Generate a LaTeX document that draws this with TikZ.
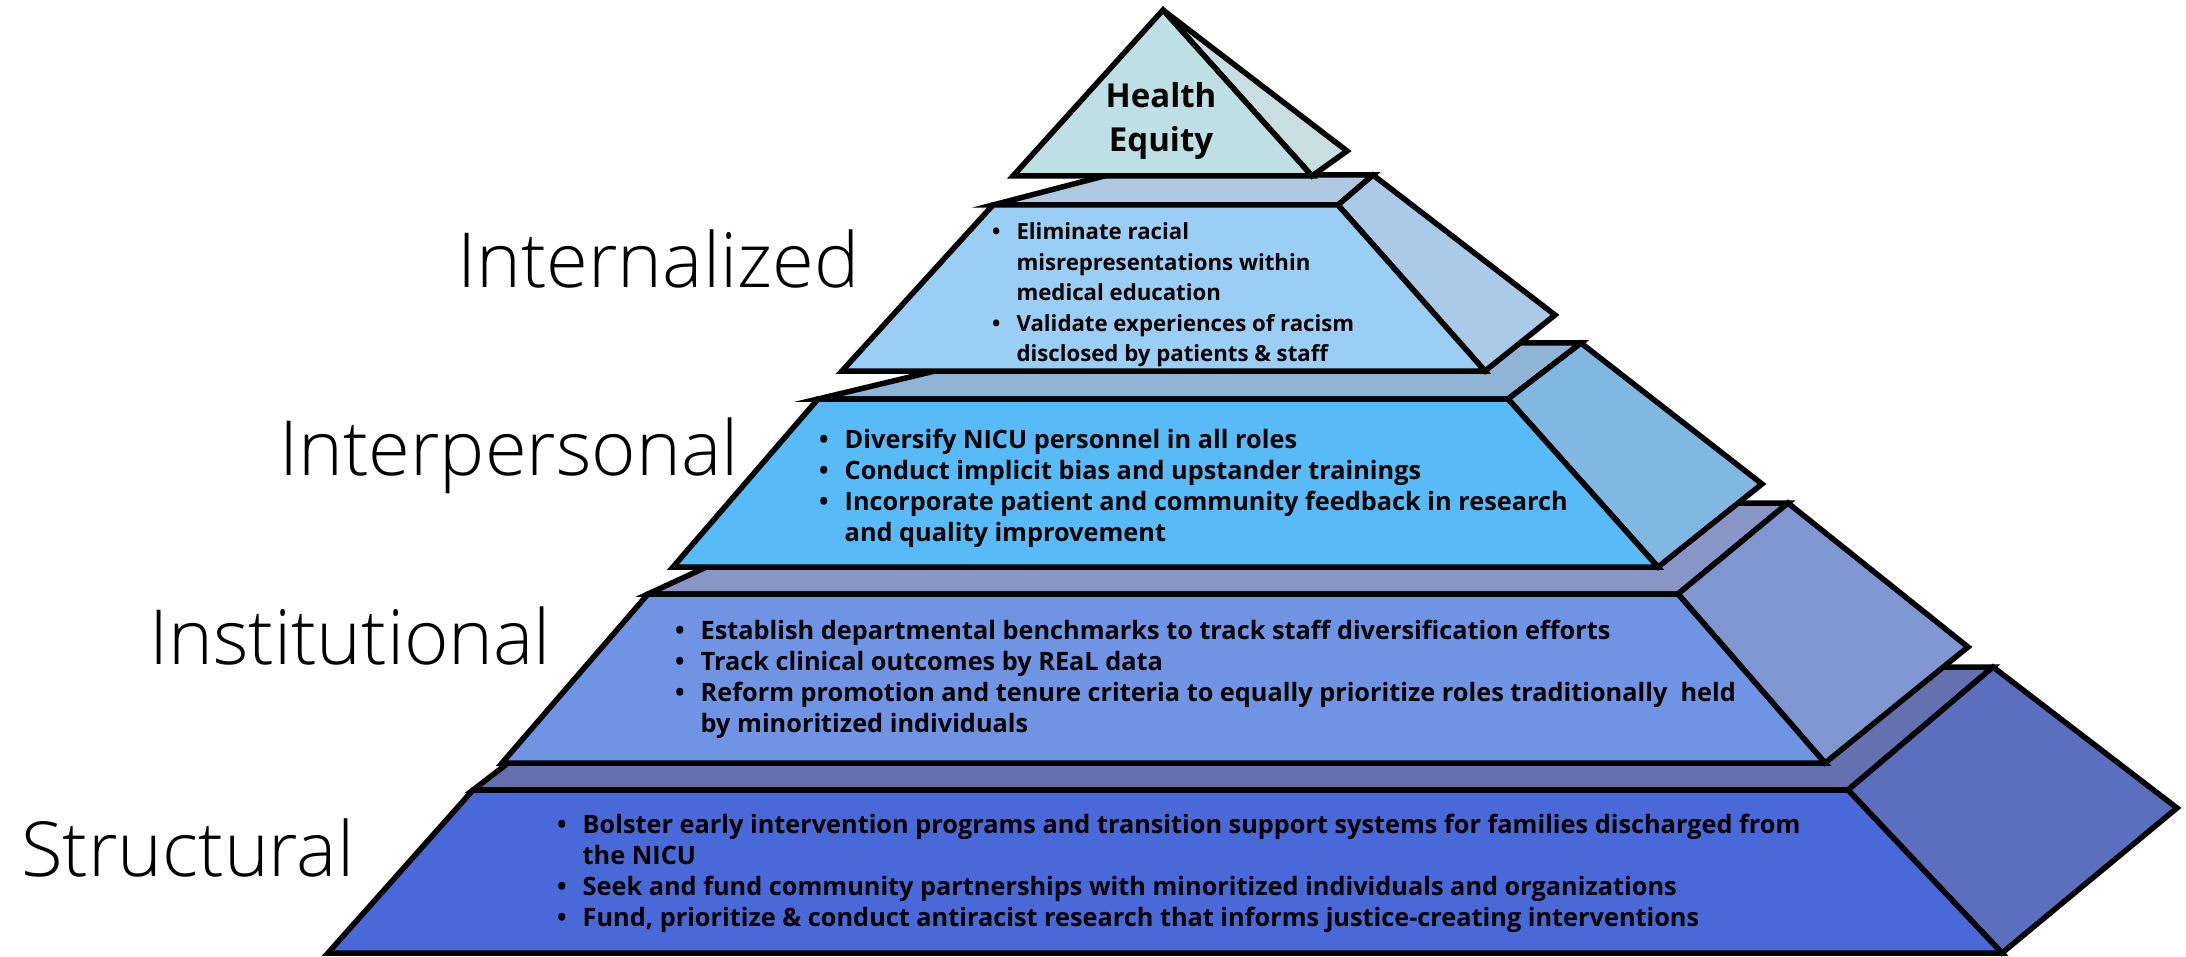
\documentclass[tikz,border=0pt]{standalone}
\usepackage{fontspec}
\setmainfont{Open Sans}
\IfFontExistsTF{Open Sans Light}{\newfontfamily\lightfont{Open Sans Light}}{\newfontfamily\lightfont{Open Sans}}
\definecolor{heqfront}{HTML}{BEE0E4}
\definecolor{heqside}{HTML}{C8DEE0}
\definecolor{intlfront}{HTML}{9BCEF5}
\definecolor{intltop}{HTML}{B0C8E0}
\definecolor{intlside}{HTML}{AACAE8}
\definecolor{intpfront}{HTML}{58BBF7}
\definecolor{intptop}{HTML}{8FB5D6}
\definecolor{intpside}{HTML}{80B8E2}
\definecolor{instfront}{HTML}{7094E4}
\definecolor{insttop}{HTML}{8796C6}
\definecolor{instside}{HTML}{8096D0}
\definecolor{strufront}{HTML}{4A69D8}
\definecolor{strutop}{HTML}{6470B0}
\definecolor{struside}{HTML}{5C6EBE}
\tikzset{
face/.style={draw, line width=5.5pt, line join=miter},
level/.style={anchor=base west, inner sep=0pt, font=\lightfont\fontsize{76}{90}\selectfont},
items/.style={anchor=base west, inner sep=0pt, font=\bfseries\fontsize{25.3}{31.3}\selectfont}
}
\newcommand{\itm}{\textbullet}

\begin{document}
\begin{tikzpicture}[x=1pt,y=-1pt]
\useasboundingbox (0,0) rectangle (2186,957);

\draw[face, fill=strutop] (473,790) -- (1848,790) -- (1993,667) -- (633,667) -- cycle;
\draw[face, fill=struside] (1848,790) -- (1993,667) -- (2177,808) -- (2002,953) -- cycle;
\draw[face, fill=strufront] (473,790) -- (1848,790) -- (2002,953) -- (328,953) -- cycle;

\draw[face, fill=insttop] (648,594) -- (1678,594) -- (1788,503) -- (845,503) -- cycle;
\draw[face, fill=instside] (1678,594) -- (1788,503) -- (1968,647) -- (1825,763) -- cycle;
\draw[face, fill=instfront] (648,594) -- (1678,594) -- (1825,763) -- (502,763) -- cycle;

\draw[face, fill=intptop] (818,399) -- (1508,399) -- (1581,343) -- (1052,343) -- cycle;
\draw[face, fill=intpside] (1508,399) -- (1581,343) -- (1762,484) -- (1658,567) -- cycle;
\draw[face, fill=intpfront] (818,399) -- (1508,399) -- (1658,567) -- (673,567) -- cycle;

\draw[face, fill=intltop] (993,205) -- (1338,205) -- (1373,175) -- (1108,175) -- cycle;
\draw[face, fill=intlside] (1338,205) -- (1373,175) -- (1555,315) -- (1485,371) -- cycle;
\draw[face, fill=intlfront] (993,205) -- (1338,205) -- (1485,371) -- (842,371) -- cycle;

\draw[face, fill=heqside] (1163,10) -- (1347,151) -- (1312,176) -- cycle;
\draw[face, fill=heqfront] (1163,10) -- (1312,176) -- (1013,176) -- cycle;

\node[items, anchor=base, font=\bfseries\fontsize{33}{44}\selectfont] (HEQ) at (1161,108)
  {\begin{tabular}[t]{@{}c@{}}Health\\Equity\end{tabular}};

\node[items, font=\bfseries\fontsize{22.2}{30.5}\selectfont] (INTLlist) at (992,240) {\begin{tabular}[t]{@{}l@{\hspace{16pt}}l@{}}
\itm & Eliminate racial\\
 & misrepresentations within\\
 & medical education\\
\itm & Validate experiences of racism\\
 & disclosed by patients \& staff
\end{tabular}};

\node[items] (INTPlist) at (819,448) {\begin{tabular}[t]{@{}l@{\hspace{16pt}}l@{}}
\itm & Diversify NICU personnel in all roles\\
\itm & Conduct implicit bias and upstander trainings\\
\itm & Incorporate patient and community feedback in research\\
 & and quality improvement
\end{tabular}};

\node[items] (INSTlist) at (675,639) {\begin{tabular}[t]{@{}l@{\hspace{16pt}}l@{}}
\itm & Establish departmental benchmarks to track staff diversification efforts\\
\itm & Track clinical outcomes by REaL data\\
\itm & Reform promotion and tenure criteria to equally prioritize roles traditionally~ held\\
 & by minoritized individuals
\end{tabular}};

\node[items] (STRUlist) at (557,833) {\begin{tabular}[t]{@{}l@{\hspace{16pt}}l@{}}
\itm & Bolster early intervention programs and transition support systems for families discharged from\\
 & the NICU\\
\itm & Seek and fund community partnerships with minoritized individuals and organizations\\
\itm & Fund, prioritize \& conduct antiracist research that informs justice-creating interventions
\end{tabular}};

\node[level] (INTL) at (457,288) {Internalized};
\node[level] (INTP) at (279,475) {Interpersonal};
\node[level] (INST) at (149,664) {Institutional};
\node[level] (STRU) at (21,876) {Structural};
\end{tikzpicture}
\end{document}
